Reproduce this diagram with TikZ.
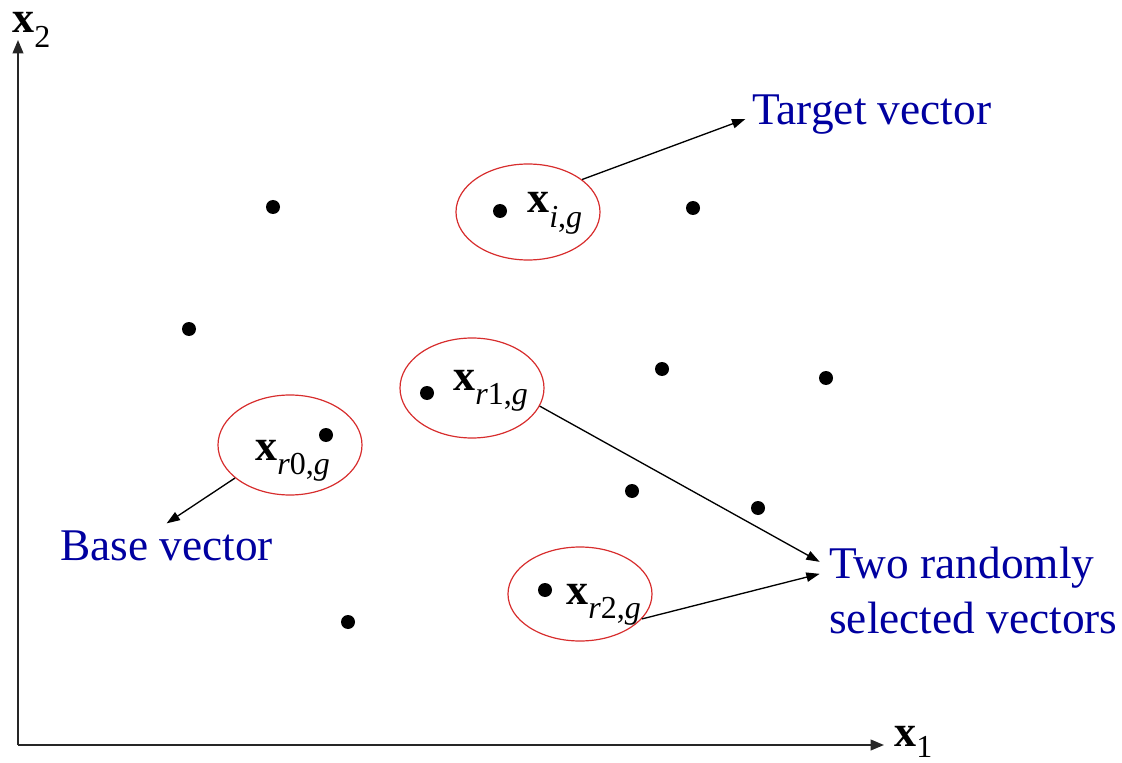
\documentclass[tikz,border=0pt]{standalone}
\usepackage{fontspec}
\setmainfont{Liberation Serif}
\usetikzlibrary{shapes.geometric,arrows.meta}
\definecolor{lblue}{RGB}{0,0,160}
\definecolor{ered}{RGB}{215,45,45}
\newcommand\vlab[1]{\textbf{x}\raisebox{-0.32em}{\fontsize{24}{24}\selectfont #1}}
\begin{document}
\begin{tikzpicture}[x=0.75pt,y=-0.75pt,
  dot/.style={circle,fill=black,inner sep=0,minimum size=10.5pt},
  sel/.style={ellipse,draw=ered,line width=0.9pt,inner sep=0,minimum width=108pt},
  lab/.style={font=\fontsize{33}{33}\selectfont,anchor=base west,inner sep=0},
  note/.style={text=lblue,font=\fontsize{34}{41}\selectfont,anchor=base west,inner sep=0},
  conn/.style={-{Triangle[length=10pt,width=7pt]},line width=1pt},
  axis/.style={-{Triangle[length=10pt,width=8pt]},line width=1.4pt,draw=black!85}]
\useasboundingbox (0,0) rectangle (1122,763);
% axes
\coordinate (o) at (18,745);
\coordinate (ytop) at (18,40);
\coordinate (xend) at (884,745);
\draw[axis] (o) -- (ytop);
\draw[axis] (o) -- (xend);
\node[lab] (ax2) at (12,33) {\vlab{2}};
\node[lab] (ax1) at (894,746) {\textbf{x}\raisebox{-0.25em}{\fontsize{24}{24}\selectfont 1}};
% selection ellipses
\node[sel,minimum height=96pt*0.75] (t) at (528,212) {};
\node[sel,minimum height=100pt*0.75] (r1) at (472,388) {};
\node[sel,minimum height=100pt*0.75] (r0) at (290,445) {};
\node[sel,minimum height=94pt*0.75] (r2) at (580,594) {};
% dots
\foreach \n/\p in {d1/{(273,207)},d2/{(500,211)},d3/{(693,208)},d4/{(189,329)},
  d5/{(427,393)},d6/{(662,369)},d7/{(826,378)},d8/{(326,435)},d9/{(632,491)},
  d10/{(758,508)},d11/{(545,590)},d12/{(348,622)}}
  \node[dot] (\n) at \p {};
% vector labels
\node[lab] (lt) at (527,213) {\vlab{\textit{i},\textit{g}}};
\node[lab] (l1) at (453,390) {\vlab{\textit{r}1,\textit{g}}};
\node[lab] (l0) at (255,460) {\vlab{\textit{r}0,\textit{g}}};
\node[lab] (l2) at (566,604) {\vlab{\textit{r}2,\textit{g}}};
% notes
\node[note] (tv) at (752,125) {Target vector};
\node[note] (bv) at (60,560) {Base vector};
\node[note] (tr) at (829,578) {Two randomly};
\node[note] (sv) at (829,633) {selected vectors};
% connectors
\draw[conn] (t.31) -- ([xshift=-5pt,yshift=-3pt]tv.west);
\draw[conn] (r0.-149) -- ([yshift=5pt]bv.north);
\draw[conn] (r1.-15) -- ([xshift=-7pt,yshift=4pt]tr.west);
\draw[conn] (r2.-22) -- ([xshift=-7pt,yshift=-5pt]tr.west);
\end{tikzpicture}
\end{document}
